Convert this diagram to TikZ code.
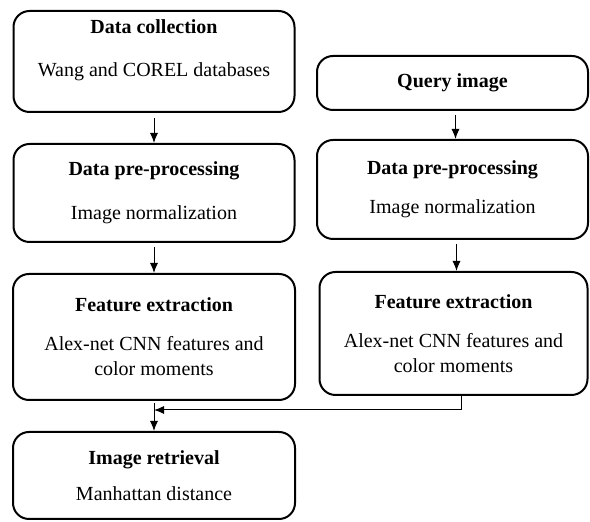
\documentclass[tikz,border=0pt]{standalone}
\usepackage{fontspec}
\setmainfont{Liberation Serif}
\usetikzlibrary{arrows.meta}
\begin{document}
\begin{tikzpicture}[x=0.5pt,y=-0.5pt]
    \tikzset{block/.style= {draw,
                            rectangle,
                            rounded corners=8pt,
                            line width=1pt,
                            align=center,
                            font=\fontsize{10}{12.5}\selectfont},
             arr/.style=   {-{Latex[length=5pt,width=4pt]},
                            line width=0.5pt},
            }
    \useasboundingbox (0,0) rectangle (590,522);
    \path
    (154,61.5)   node[block, minimum width=140.5pt, minimum height=50.5pt](dc)
                 {\textbf{Data collection}\\[9pt]Wang and COREL databases\\[0.5pt]\mbox{}}
    (154,193)    node[block, minimum width=140.5pt, minimum height=49pt](dp)
                 {\textbf{Data pre-processing}\\[9.5pt]Image normalization}
    (154,337)    node[block, minimum width=141pt, minimum height=63pt](fe)
                 {\textbf{Feature extraction}\\[7pt]Alex-net CNN features and\\color moments}
    (154,475.5)  node[block, minimum width=141pt, minimum height=43.5pt](ir)
                 {\textbf{Image retrieval}\\[5.5pt]Manhattan distance}
    (452.5,83)   node[block, minimum width=135.5pt, minimum height=27pt](q)
                 {\textbf{Query image}}
    (452.5,189.5) node[block, minimum width=135.5pt, minimum height=49.5pt](qp)
                 {\textbf{Data pre-processing}\\[7pt]Image normalization}
    (453.5,333.5) node[block, minimum width=134pt, minimum height=61.5pt](qf)
                 {\textbf{Feature extraction}\\[7pt]Alex-net CNN features and\\color moments}
    ;
    \coordinate (j) at (fe.south |- 0,410);
    \draw[arr, shorten <=2.5pt] (dc) -- (dp);
    \draw[arr, shorten <=2pt]   (dp) -- (fe);
    \draw[arr, shorten <=1pt]   (fe) -- (ir);
    \draw[arr, shorten <=2pt]   ([xshift=1.5pt]q.south) -- ([xshift=1.5pt]q.south |- qp.north);
    \draw[arr, shorten <=2pt]   ([xshift=2pt]qp.south) -- ([xshift=2pt]qp.south |- qf.north);
    \draw[arr] ([xshift=4pt]qf.south) |- (j);
\end{tikzpicture}
\end{document}
